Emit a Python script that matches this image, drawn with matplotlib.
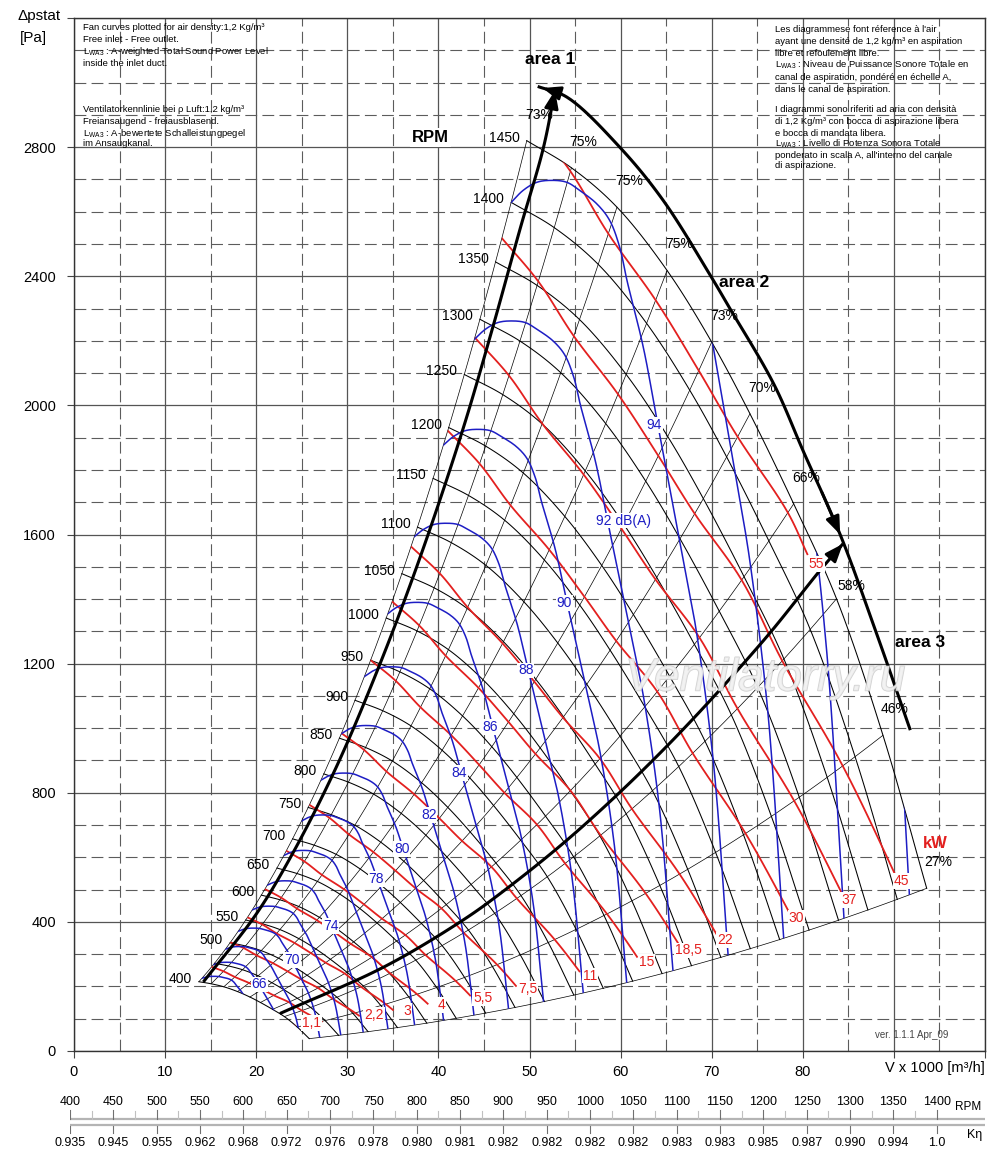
import numpy as np
import matplotlib
matplotlib.use("Agg")
import matplotlib.pyplot as plt
from matplotlib.path import Path
from matplotlib.patches import PathPatch
from matplotlib.ticker import MultipleLocator
import matplotlib.patheffects as pe

plt.rcParams['font.family'] = ['Liberation Sans', 'DejaVu Sans']
plt.rcParams['mathtext.fontset'] = 'custom'
plt.rcParams['mathtext.rm'] = 'Liberation Sans'
plt.rcParams['mathtext.it'] = 'Liberation Sans:italic'
plt.rcParams['mathtext.bf'] = 'Liberation Sans:bold'
plt.rcParams['lines.scale_dashes'] = False

# ---------------- values ----------------
rpm_curves = [400, 450, 500, 550, 600, 650, 700, 750, 800, 850, 900, 950,
              1000, 1050, 1100, 1150, 1200, 1250, 1300, 1350, 1400, 1450]
rpm_labels = [400, 500, 550, 600, 650, 700, 750, 800, 850, 900, 950,
              1000, 1050, 1100, 1150, 1200, 1250, 1300, 1350, 1400, 1450]
ref_rpm = 1450

# points of the 1450 RPM curve where the efficiency rays end (V x1000 m3/h, Pa)
ray_q = [49.7, 54.6, 59.6, 65.1, 70.0, 74.2, 79.0, 83.7, 88.8, 93.6]
ray_p = [2820, 2736, 2614, 2418, 2196, 1974, 1695, 1401, 978, 504]
ray_eff = [73, 75, 75, 75, 73, 70, 66, 58, 46, 27]

# absorbed power lines (kW)
power_kw = [1.1, 1.5, 2.2, 3, 4, 5.5, 7.5, 11, 15, 18.5, 22, 30, 37, 45, 55]
power_text = ['1,1', '', '2,2', '3', '4', '5,5', '7,5', '11', '15', '18,5',
              '22', '30', '37', '45', '55']
power_end_ray = [9, 9, 9, 9, 9, 9, 9, 9, 9, 9, 9, 9, 9, 9, 6.45]

# sound power lines dB(A): level and the RPM at which each starts on the left limit
sound_db = [64, 66, 68, 70, 72, 74, 76, 78, 80, 82, 84, 86, 88, 90, 92, 94, 96, 98, 100]
sound_start_rpm = [410, 447, 485, 526, 571, 619, 672, 729, 791, 856, 930, 1005,
                   1090, 1183, 1282, 1400, 1519, 1648, 1788]
sound_labelled = [66, 70, 74, 78, 80, 82, 84, 86, 88, 90, 92, 94]
# shape of the 94 dB(A) line (starts at 1400 RPM on the left limit)
db_base_rpm = 1400
db_base_q = [48.0, 49.3, 50.8, 52.4, 54.1, 55.5, 57.4, 58.8, 59.9, 60.7, 62.5,
             64.0, 65.65, 67.1, 68.35, 70.2, 71.8]
db_base_p = [2629, 2666, 2691, 2697, 2691, 2666, 2624, 2573, 2490, 2387, 2179,
             1953, 1706, 1489, 1294, 891, 297]
db_label_q, db_label_p = 63.7, 1930

# thick working area limits
area1_q = [14.2, 20.0, 24.0, 28.8, 33.6, 38.0, 42.7, 46.0, 49.0, 51.5, 52.8]
area1_p = [214, 424, 612, 880, 1200, 1530, 1927, 2245, 2550, 2795, 2976]
area2_q = [50.9, 54.1, 59.9, 64.7, 69.8, 72.0, 76.8, 80.1, 84.1, 88.1, 91.8]
area2_p = [2988, 2955, 2800, 2634, 2405, 2300, 2067, 1855, 1600, 1293, 994]
area3_q = [22.6, 34.0, 42.4, 46.8, 55.0, 65.0, 75.7, 81.9, 84.4]
area3_p = [116, 260, 400, 488, 675, 942, 1272, 1489, 1571]

# bottom scales
scale_rpm = list(range(400, 1401, 50))
k_eta = ['0.935', '0.945', '0.955', '0.962', '0.968', '0.972', '0.976', '0.978',
         '0.980', '0.981', '0.982', '0.982', '0.982', '0.982', '0.983', '0.983',
         '0.985', '0.987', '0.990', '0.994', '1.0']

x_tick_vals = list(range(0, 101, 10))
x_tick_text = ['0', '10', '20', '30', '40', '50', '60', '70', '80', '', '']
y_tick_vals = list(range(0, 3201, 400))
y_tick_text = ['0', '400', '800', '1200', '1600', '2000', '2400', '2800', '']

RED = '#e3201f'
BLUE = '#1d1dc4'

# ---------------- figure ----------------
W, H = 1000, 1160
fig = plt.figure(figsize=(W / 100, H / 100), dpi=100)
ax_l, ax_r, ax_t, ax_b = 74, 985, 18, 1051
ax = fig.add_axes([ax_l / W, 1 - ax_b / H, (ax_r - ax_l) / W, (ax_b - ax_t) / H])
ax.set_xlim(0, 100)
ax.set_ylim(0, 3200)
ys = ((ax_b - ax_t) / 3200) / ((ax_r - ax_l) / 100)


def spline(x, y, n=14):
    """centripetal Catmull-Rom through the given points (drawn in screen proportion)"""
    P = np.column_stack([np.asarray(x, float), np.asarray(y, float) * ys])
    if len(P) < 3:
        return P[:, 0], P[:, 1] / ys
    P = np.vstack([2 * P[0] - P[1], P, 2 * P[-1] - P[-2]])
    out = []
    for i in range(1, len(P) - 2):
        p0, p1, p2, p3 = P[i - 1], P[i], P[i + 1], P[i + 2]
        t0 = 0.0
        t1 = t0 + max(np.linalg.norm(p1 - p0), 1e-9) ** 0.5
        t2 = t1 + max(np.linalg.norm(p2 - p1), 1e-9) ** 0.5
        t3 = t2 + max(np.linalg.norm(p3 - p2), 1e-9) ** 0.5
        t = np.linspace(t1, t2, n, endpoint=False)[:, None]
        A1 = (t1 - t) / (t1 - t0) * p0 + (t - t0) / (t1 - t0) * p1
        A2 = (t2 - t) / (t2 - t1) * p1 + (t - t1) / (t2 - t1) * p2
        A3 = (t3 - t) / (t3 - t2) * p2 + (t - t2) / (t3 - t2) * p3
        B1 = (t2 - t) / (t2 - t0) * A1 + (t - t0) / (t2 - t0) * A2
        B2 = (t3 - t) / (t3 - t1) * A2 + (t - t1) / (t3 - t1) * A3
        C = (t2 - t) / (t2 - t1) * B1 + (t - t1) / (t2 - t1) * B2
        out.append(C)
    out.append(P[-2][None, :])
    out = np.vstack(out)
    return out[:, 0], out[:, 1] / ys


def cut_end(q, p, cut_px):
    xy = ax.transData.transform(np.column_stack([q, p]))
    seg = np.hypot(*np.diff(xy, axis=0).T)
    rem = cut_px
    k = len(xy) - 1
    while k > 1 and seg[k - 1] < rem:
        rem -= seg[k - 1]
        k -= 1
    t = max(0.0, 1 - rem / seg[k - 1])
    new = xy[k - 1] + t * (xy[k] - xy[k - 1])
    pts = np.vstack([xy[:k], new])
    d = ax.transData.inverted().transform(pts)
    return d[:, 0], d[:, 1]


# grid
ax.xaxis.set_major_locator(MultipleLocator(10))
ax.xaxis.set_minor_locator(MultipleLocator(5))
ax.yaxis.set_major_locator(MultipleLocator(400))
ax.yaxis.set_minor_locator(MultipleLocator(100))
ax.set_axisbelow(True)
ax.grid(which='major', color='#555555', lw=0.9, ls='-')
ax.grid(which='minor', color='#5c5c5c', lw=0.8, ls=(0, (8.5, 3.8)))
ax.set_xticks(x_tick_vals)
ax.set_xticklabels(x_tick_text)
ax.set_yticks(y_tick_vals)
ax.set_yticklabels(y_tick_text)
ax.tick_params(which='minor', length=0)
ax.tick_params(which='major', length=5, width=0.8, color='#444444',
               labelsize=10.5, direction='out')
ax.tick_params(axis='y', pad=8)
ax.tick_params(axis='x', pad=5)
for sp in ax.spines.values():
    sp.set_color('#333333')
    sp.set_linewidth(1.0)

ray_q_a = np.array(ray_q)
ray_p_a = np.array(ray_p)
s_min = rpm_curves[0] / ref_rpm
s_grid = np.linspace(s_min, 1, 40)
bq, bp = spline(ray_q, ray_p)

# working domain (clip region)
verts = np.vstack([
    np.column_stack([ray_q[0] * s_grid, ray_p[0] * s_grid ** 2]),
    np.column_stack([bq, bp]),
    np.column_stack([ray_q[-1] * s_grid[::-1], ray_p[-1] * s_grid[::-1] ** 2]),
    np.column_stack([bq[::-1] * s_min, bp[::-1] * s_min ** 2]),
])
clip_patch = PathPatch(Path(np.vstack([verts, verts[:1]]), closed=True),
                       transform=ax.transData, fc='none', ec='none')
ax.add_patch(clip_patch)

# efficiency rays
for i in range(len(ray_q)):
    ax.plot(ray_q[i] * s_grid, ray_p[i] * s_grid ** 2, color='k', lw=0.5, zorder=3)
    off = (15, 13) if ray_eff[i] == 58 else (12, 26)
    ax.annotate(f'{ray_eff[i]}%', (ray_q[i], ray_p[i]), xytext=off,
                textcoords='offset pixels', ha='center', va='center',
                fontsize=10, zorder=9)

# RPM curves
for n in rpm_curves:
    s = n / ref_rpm
    ax.plot(bq * s, bp * s * s, color='k', lw=0.75, zorder=3)
for n in rpm_labels:
    s = n / ref_rpm
    ax.annotate(str(n), (ray_q[0] * s, ray_p[0] * s * s), xytext=(-7, 3),
                textcoords='offset pixels', ha='right', va='center', fontsize=10)

# power lines
p_ref_kw = ray_q_a / 3.6 * ray_p_a / (np.array(ray_eff) / 100.0) / 1000.0
for P, txt, end in zip(power_kw, power_text, power_end_ray):
    s = (P / p_ref_kw) ** (1 / 3)
    q = ray_q_a * s
    p = ray_p_a * s ** 2
    iend = int(np.floor(end))
    if end < len(q) - 1:
        t = end - iend
        qe = q[iend] + t * (q[iend + 1] - q[iend])
        pe_ = p[iend] + t * (p[iend + 1] - p[iend])
        q = np.append(q[:iend + 1], qe)
        p = np.append(p[:iend + 1], pe_)
        sq, sp_ = spline(q, p, 10)
        anchor, off = (qe, pe_), (9, -10)
    else:
        sq, sp_ = spline(q, p, 10)
        anchor, off = (q[-1], p[-1]), (-4, 15)
        sq, sp_ = cut_end(sq, sp_, 24)
    ln, = ax.plot(sq, sp_, color=RED, lw=1.3, zorder=4)
    ln.set_clip_path(clip_patch)
    if txt:
        ax.annotate(txt, anchor, xytext=off, textcoords='offset pixels',
                    ha='center', va='center', fontsize=10, color=RED, zorder=9,
                    bbox=dict(fc='white', ec='none', pad=0.6))

# sound lines
dq, dp = spline(db_base_q, db_base_p, 12)
for db, n0 in zip(sound_db, sound_start_rpm):
    s = n0 / db_base_rpm
    ln, = ax.plot(dq * s, dp * s * s, color=BLUE, lw=1.1, zorder=5)
    ln.set_clip_path(clip_patch)
    if db in sound_labelled:
        pos = (db_label_q * s, db_label_p * s * s)
        if db == 92:
            ax.annotate(f'{db} dB(A)', pos, xytext=(-9, 8), textcoords='offset pixels',
                        ha='left', va='center', fontsize=10, color=BLUE, zorder=9,
                        bbox=dict(fc='white', ec='none', pad=0.6))
        else:
            ax.annotate(str(db), pos, xytext=(0, 3), textcoords='offset pixels',
                        ha='center', va='center', fontsize=10, color=BLUE, zorder=9,
                        bbox=dict(fc='white', ec='none', pad=0.6))

# working area limits (thick)
arrow_kw = dict(arrowstyle='-|>,head_length=0.9,head_width=0.35', color='k',
                lw=2.0, shrinkA=0, shrinkB=0, mutation_scale=12)
for qq, pp in [(area1_q, area1_p), (area2_q, area2_p), (area3_q, area3_p)]:
    sq, sp_ = spline(qq, pp, 12)
    ax.plot(sq, sp_, color='k', lw=2.2, zorder=6, solid_capstyle='butt')
a1q, a1p = spline(area1_q, area1_p, 12)
ax.annotate('', xy=(a1q[-1], a1p[-1]), xytext=(a1q[-4], a1p[-4]), arrowprops=arrow_kw, zorder=7)
a2q, a2p = spline(area2_q, area2_p, 12)
ax.annotate('', xy=(a2q[2], a2p[2]), xytext=(a2q[8], a2p[8]), arrowprops=arrow_kw, zorder=7)
j = 8 * 12
ax.annotate('', xy=(a2q[j], a2p[j]), xytext=(a2q[j - 6], a2p[j - 6]), arrowprops=arrow_kw, zorder=7)
a3q, a3p = spline(area3_q, area3_p, 12)
ax.annotate('', xy=(a3q[-1], a3p[-1]), xytext=(a3q[-6], a3p[-6]), arrowprops=arrow_kw, zorder=7)

# labels inside the plot
lab_kw = dict(fontsize=12.5, fontweight='bold', ha='center', va='center', zorder=9)
ax.text(52.3, 3072, 'area 1', **lab_kw)
ax.text(73.6, 2381, 'area 2', **lab_kw)
ax.text(92.9, 1266, 'area 3', **lab_kw)
ax.text(39.1, 2830, 'RPM', fontsize=12, fontweight='bold', ha='center', va='center',
        zorder=9, bbox=dict(fc='white', ec='none', pad=1.5))
ax.text(94.6, 643, 'kW', fontsize=12, fontweight='bold', color=RED, ha='center',
        va='center', zorder=9)
ax.text(75.9, 1154, 'Ventilatorry.ru', fontsize=33, style='italic', ha='center',
        va='center', color='#f2f2f2', alpha=0.75, zorder=8,
        path_effects=[pe.Stroke(linewidth=1.1, foreground='#c4c4c4'), pe.Normal()])

ax.text(1.0, -0.0165, 'V x 1000 [m³/h]', transform=ax.transAxes, ha='right',
        va='center', fontsize=10.5)

# axis caption and notes
fig.text(18 / W, 1 - 16 / H, 'Δpstat', fontsize=11, va='center', ha='left')
fig.text(20 / W, 1 - 38 / H, '[Pa]', fontsize=11, va='center', ha='left')

note_fs = 6.8
left_notes = [
    (27, 'Fan curves plotted for air density:1,2 Kg/m³'),
    (39, 'Free inlet - Free outlet.'),
    (51, r'L$_{\rm WA3}$ : A-weighted Total Sound Power Level'),
    (63, 'inside the inlet duct.'),
    (110, 'Ventilatorkennlinie bei ρ Luft:1,2 kg/m³'),
    (121, 'Freiansaugend - freiausblasend.'),
    (133, r'L$_{\rm WA3}$ : A-bewertete Schalleistungpegel'),
    (144, 'im Ansaugkanal.'),
]
for y, t in left_notes:
    fig.text(83 / W, 1 - y / H, t, fontsize=note_fs, va='center', ha='left')
right_notes = [
    (29, "Les diagrammese font réference à l'air"),
    (41, 'ayant une densité de 1,2 kg/m³ en aspiration'),
    (53, 'libre et refoulement libre.'),
    (65, r'L$_{\rm WA3}$ : Niveau de Puissance Sonore Totale en'),
    (77, 'canal de aspiration, pondéré en échelle A,'),
    (89, 'dans le canal de aspiration.'),
    (110, 'I diagrammi sono riferiti ad aria con densità'),
    (122, 'di 1,2 Kg/m³ con bocca di aspirazione libera'),
    (133, 'e bocca di mandata libera.'),
    (144, r'L$_{\rm WA3}$ : Livello di Potenza Sonora Totale'),
    (155, "ponderato in scala A, all'interno del canale"),
    (166, 'di aspirazione.'),
]
for y, t in right_notes:
    fig.text(775 / W, 1 - y / H, t, fontsize=note_fs, va='center', ha='left')
fig.text(875 / W, 1 - 1035 / H, 'ver. 1.1.1 Apr_09', fontsize=7, color='#444444',
         va='center', ha='left')

# ---------------- RPM / K-eta scale ----------------
sx0, sx1, sy0, sy1 = 70, 985, 1095, 1150
px_per_rpm = (936.7 - 70) / 1000.0
ax2 = fig.add_axes([sx0 / W, 1 - sy1 / H, (sx1 - sx0) / W, (sy1 - sy0) / H])
ax2.set_xlim(400, 400 + (sx1 - sx0) / px_per_rpm)
ax2.set_ylim(sy1, sy0)
ax2.axis('off')
xr = ax2.get_xlim()
ax2.plot(xr, [1119, 1119], color='#b4b4b4', lw=1.6)
ax2.plot(xr, [1125, 1125], color='#b4b4b4', lw=1.6)
narrow = ['Liberation Sans Narrow', 'Liberation Sans', 'DejaVu Sans']
for r, k in zip(scale_rpm, k_eta):
    ax2.plot([r, r], [1110, 1118.5], color='#707070', lw=0.8)
    ax2.plot([r, r], [1125.5, 1133], color='#707070', lw=0.8)
    ax2.text(r, 1102, str(r), ha='center', va='center', fontsize=9, family=narrow)
    ax2.text(r, 1143, k, ha='center', va='center', fontsize=9, family=narrow)
for r in scale_rpm[:-1]:
    ax2.plot([r + 25, r + 25], [1111, 1118.5], color='#c0c0c0', lw=0.8)
ax2.text(1436, 1107, 'RPM', ha='center', va='center', fontsize=8.5, family=narrow)
ax2.text(1444, 1135, 'Kη', ha='center', va='center', fontsize=9, family=narrow)

fig.savefig('out.png', dpi=100)
